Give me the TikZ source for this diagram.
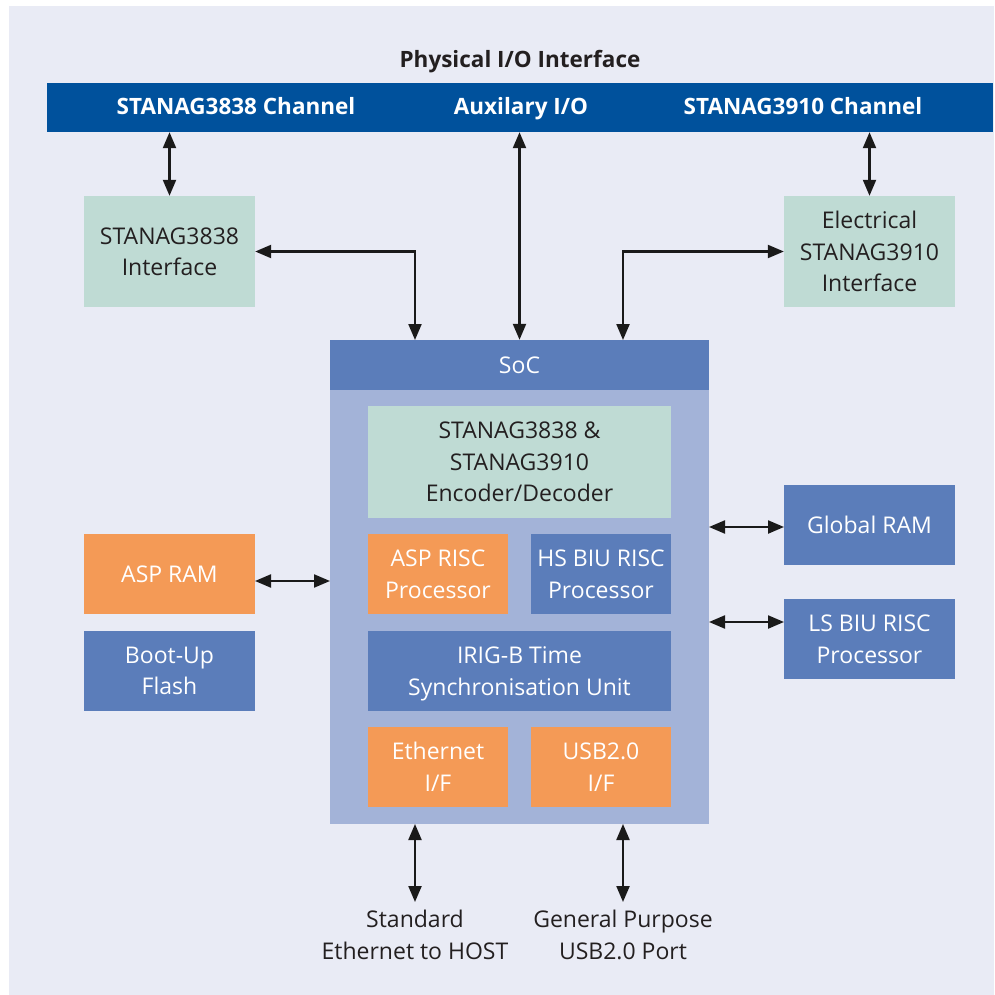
\documentclass[tikz,border=0pt]{standalone}
\usepackage{fontspec}
\setmainfont{Open Sans}
\usetikzlibrary{arrows.meta,calc}
\definecolor{bgc}{HTML}{E9EBF5}
\definecolor{barc}{HTML}{00519C}
\definecolor{mint}{HTML}{BFDBD4}
\definecolor{bluec}{HTML}{5B7DBA}
\definecolor{socbody}{HTML}{A3B3D8}
\definecolor{orangec}{HTML}{F49A56}
\definecolor{darktext}{HTML}{231F20}
\definecolor{arrowc}{HTML}{1A1A1A}
\tikzset{
  basefont/.style={font=\fontsize{23}{31.5}\selectfont},
  blk/.style={basefont, draw=none, inner sep=0pt, align=center, text=white, text depth=0pt},
  mintbox/.style={blk, fill=mint, text=darktext},
  bluebox/.style={blk, fill=bluec},
  orangebox/.style={blk, fill=orangec},
  conn/.style={draw=arrowc, line width=2.2pt,
    {Triangle[length=16pt,width=13pt]}-{Triangle[length=16pt,width=13pt]}},
  lbl/.style={basefont, text=darktext, align=center, inner sep=0pt, text depth=0pt},
  boldlbl/.style={font=\fontsize{22.5}{31.5}\selectfont\bfseries, inner sep=0pt, anchor=base}
}
\begin{document}
\begin{tikzpicture}[x=1pt,y=-1pt]
\useasboundingbox (0,0) rectangle (994,995);
\fill[bgc] (9,6) rectangle (994,995);

% title and top bar
\node[boldlbl, text=darktext] (title) at (520,68) {Physical I/O Interface};
\node[blk, fill=barc, minimum width=946pt, minimum height=49pt] (bar) at (520,107.5) {};
\node[boldlbl, text=white] (ch38) at (236,115) {STANAG3838 Channel};
\node[boldlbl, text=white] (aux) at (521,115) {Auxilary I/O};
\node[boldlbl, text=white] (ch39) at (803,115) {STANAG3910 Channel};

% interfaces
\node[mintbox, minimum width=171pt, minimum height=111pt] (s38if) at (169.5,251.5) {STANAG3838\\Interface};
\node[mintbox, minimum width=171pt, minimum height=111pt] (e39if) at (869.5,251.5) {Electrical\\STANAG3910\\Interface};

% SoC
\node[blk, fill=socbody, minimum width=379pt, minimum height=434pt] (socb) at (519.5,607) {};
\node[bluebox, minimum width=379pt, minimum height=50pt] (soch) at (519.5,365) {SoC};
\node[mintbox, minimum width=303pt, minimum height=112pt] (enc) at (519.5,462) {STANAG3838 \&\\STANAG3910\\Encoder/Decoder};
\node[orangebox, minimum width=140pt, minimum height=80pt] (asprisc) at (438,574) {ASP RISC\\Processor};
\node[bluebox, minimum width=140pt, minimum height=80pt] (hsbiu) at (601,574) {HS BIU RISC\\Processor};
\node[bluebox, minimum width=303pt, minimum height=80pt] (irig) at (519.5,671) {IRIG-B Time\\Synchronisation Unit};
\node[orangebox, minimum width=140pt, minimum height=80pt] (eth) at (438,767) {Ethernet\\I/F};
\node[orangebox, minimum width=140pt, minimum height=80pt] (usb) at (601,767) {USB2.0\\I/F};

% left side
\node[orangebox, minimum width=171pt, minimum height=80pt] (asprm) at (169.5,574) {ASP RAM};
\node[bluebox, minimum width=171pt, minimum height=80pt] (boot) at (169.5,671) {Boot-Up\\Flash};

% right side
\node[bluebox, minimum width=171pt, minimum height=80pt] (gram) at (869.5,525) {Global RAM};
\node[bluebox, minimum width=171pt, minimum height=80pt] (lsbiu) at (869.5,639) {LS BIU RISC\\Processor};

% bottom labels
\node[lbl] (ethhost) at (415,935) {Standard\\Ethernet to HOST};
\node[lbl] (usbport) at (623,935) {General Purpose\\USB2.0 Port};

% connector end points
\coordinate (c38) at (415,340);
\coordinate (c39) at (623,340);
\coordinate (aspL) at (255,581);
\coordinate (aspR) at (330,581);
\coordinate (gL) at (709,527);
\coordinate (gR) at (784,527);
\coordinate (lL) at (709,622);
\coordinate (lR) at (784,622);
\coordinate (eT) at (415,824);
\coordinate (eB) at (415,902);
\coordinate (uT) at (623,824);
\coordinate (uB) at (623,902);

% connectors
\draw[conn] (s38if.north |- bar.south) -- (s38if.north);
\draw[conn] (e39if.north |- bar.south) -- (e39if.north);
\draw[conn] (soch.north |- bar.south) -- (soch.north);
\draw[conn] (s38if.east) -| (c38);
\draw[conn] (e39if.west) -| (c39);
\draw[conn] (aspL) -- (aspR);
\draw[conn] (gL) -- (gR);
\draw[conn] (lL) -- (lR);
\draw[conn] (eT) -- (eB);
\draw[conn] (uT) -- (uB);
\end{tikzpicture}
\end{document}
